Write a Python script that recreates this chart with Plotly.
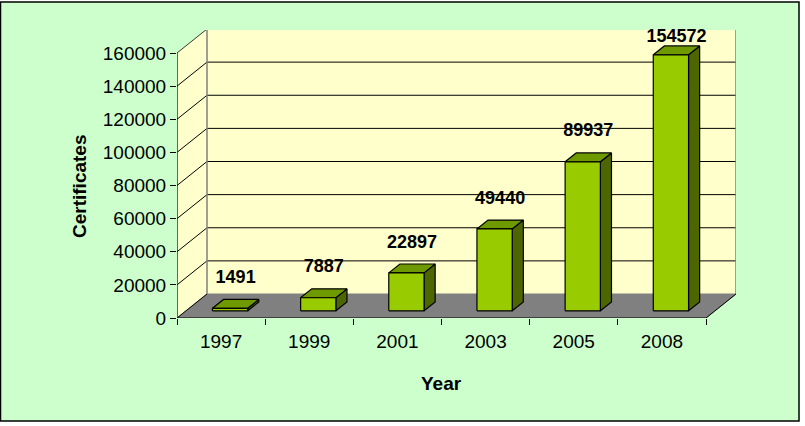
import plotly.graph_objects as go

# ---- data ----
years = ["1997", "1999", "2001", "2003", "2005", "2008"]
certificates = [1491, 7887, 22897, 49440, 89937, 154572]
y_ticks = [0, 20000, 40000, 60000, 80000, 100000, 120000, 140000, 160000]

# ---- layout geometry (pixels) ----
W, H = 805, 426
L, R, T, B = 177, 736, 30, 318          # plot-area pixel box
n = len(years)
front_w_px = 706 - 177                  # width of the front floor edge
unit_px = front_w_px / n                # px per category
depth_px_x, depth_px_y = 30, 24         # 3-D depth offset in px
ymax_front = 160000
y_px_per_unit = (B - 53) / ymax_front   # front 160000 sits at y=53
ddx = depth_px_x / unit_px              # depth in x data units
ddy = depth_px_y / y_px_per_unit        # depth in y data units
x0, x1 = -0.5, n - 0.5
xr = [x0, x1 + ddx]
yr = [0, (B - T) / y_px_per_unit]
px_to_y = 1 / y_px_per_unit

d0, d1 = 0.30, 0.67                     # bar depth fractions
bw = 0.40                               # bar width (category units)

WALL = "#FFFFCC"
FLOOR = "#808080"
FRONT = "#99CC00"
TOP = "#6E9A00"
SIDE = "#4D6600"
BORDER = "#808080"
FONT = "Liberation Sans, Arial"

fig = go.Figure()

def poly(xs, ys, fill, line_color=None, width=1):
    fig.add_trace(go.Scatter(
        x=xs + [xs[0]], y=ys + [ys[0]], mode="lines", fill="toself",
        fillcolor=fill, line=dict(color=line_color or fill, width=width),
        hoverinfo="skip", showlegend=False))

def line(xs, ys, color, width=1):
    fig.add_trace(go.Scatter(x=xs, y=ys, mode="lines",
                             line=dict(color=color, width=width),
                             hoverinfo="skip", showlegend=False))

top_v = y_ticks[-1]
# left wall
poly([x0, x0 + ddx, x0 + ddx, x0], [0, ddy, top_v + ddy, top_v], WALL)
# back wall
poly([x0 + ddx, x1 + ddx, x1 + ddx, x0 + ddx], [ddy, ddy, top_v + ddy, top_v + ddy], WALL)
# floor
poly([x0, x1, x1 + ddx, x0 + ddx], [0, 0, ddy, ddy], FLOOR)

# gridlines on walls
for v in y_ticks[1:-1]:
    line([x0, x0 + ddx, x1 + ddx], [v, v + ddy, v + ddy], "#000000", 1)
line([x0, x0 + ddx], [0, ddy], "#000000", 1)
# wall borders
line([x0 + ddx, x0 + ddx, x1 + ddx, x1 + ddx],
     [ddy, top_v + ddy, top_v + ddy, ddy], BORDER, 1.5)
line([x0, x0 + ddx], [top_v, top_v + ddy], "#333333", 1)
# floor right edge
line([x1, x1 + ddx], [0, ddy], "#000000", 1)

# bars
for i, v in enumerate(certificates):
    xl = i - bw / 2 + d0 * ddx
    xrr = i + bw / 2 + d0 * ddx
    yb = d0 * ddy
    yt = v + d0 * ddy
    ex, ey = (d1 - d0) * ddx, (d1 - d0) * ddy
    # side face
    poly([xrr, xrr + ex, xrr + ex, xrr], [yb, yb + ey, yt + ey, yt], SIDE, "#000000", 1.2)
    # top face
    poly([xl, xrr, xrr + ex, xl + ex], [yt, yt, yt + ey, yt + ey], TOP, "#000000", 1.2)
    # front face
    poly([xl, xrr, xrr, xl], [yb, yb, yt, yt], FRONT, "#000000", 1.2)

# data labels
lab_x = [i + ((d0 + d1) / 2) * ddx for i in range(n)]
lab_y = [min(v + d1 * ddy + 21 * px_to_y, yr[1] - 7 * px_to_y) for v in certificates]
fig.add_trace(go.Scatter(
    x=lab_x, y=lab_y, mode="text", text=[str(v) for v in certificates],
    textposition="middle center", cliponaxis=False,
    textfont=dict(family=FONT, size=18, color="#000000", weight="bold"),
    hoverinfo="skip", showlegend=False))

# axis lines (front)
line([x0, x0], [0, top_v], "#000000", 1.2)
line([x0, x1], [0, 0], "#000000", 1.2)

fig.update_layout(
    width=W, height=H,
    margin=dict(l=L, r=W - R, t=T, b=H - B),
    paper_bgcolor="#FFFFFF",
    plot_bgcolor="rgba(0,0,0,0)",
    font=dict(family=FONT, size=19, color="#000000"),
    xaxis=dict(range=xr, showgrid=False, zeroline=False, showline=False,
               tickvals=list(range(n)), ticktext=years, ticks="",
               ticklabelstandoff=10, tickfont=dict(size=19),
               minor=dict(tickvals=[k - 0.5 for k in range(n + 1)], ticks="outside",
                          ticklen=6, tickcolor="#000000", tickwidth=1.2, showgrid=False),
               fixedrange=True),
    yaxis=dict(range=yr, showgrid=False, zeroline=False, showline=False,
               tickvals=y_ticks, ticktext=[str(v) for v in y_ticks],
               ticks="outside", ticklen=6, tickcolor="#000000", tickwidth=1.2,
               tickfont=dict(size=19), fixedrange=True),
    shapes=[dict(type="rect", xref="paper", yref="paper", layer="below",
                 x0=(0.5 - L) / (R - L), x1=(799 - L) / (R - L),
                 y0=(B - 421) / (B - T), y1=(B - 2) / (B - T),
                 fillcolor="#CCFFCC", line=dict(color="#000000", width=1.5))],
    annotations=[
        dict(text="<b>Certificates</b>", xref="paper", yref="paper",
             x=(79 - L) / (R - L), y=(B - 186) / (B - T), textangle=-90,
             showarrow=False, xanchor="center", yanchor="middle",
             font=dict(size=19, family=FONT, color="#000000")),
        dict(text="<b>Year</b>", xref="paper", yref="paper",
             x=(441 - L) / (R - L), y=(B - 383) / (B - T),
             showarrow=False, xanchor="center", yanchor="middle",
             font=dict(size=19, family=FONT, color="#000000")),
    ],
)

fig.write_html("out.html")
